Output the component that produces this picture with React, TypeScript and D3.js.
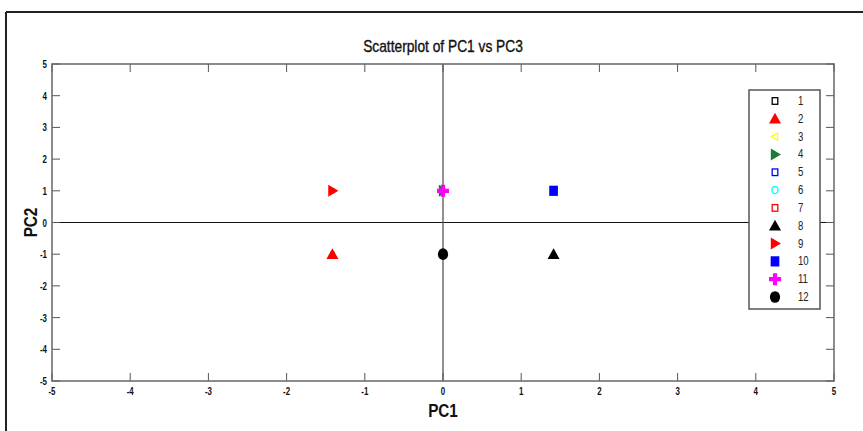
import * as d3 from 'd3';
import React from 'react';

// observation numbers and their scores
const obsLabels = ['1', '2', '3', '4', '5', '6', '7', '8', '9', '10', '11', '12'];
const pc1Values = [-1.414, -1.414, 1.414, 0, 1.414, 0, -1.414, 1.414, -1.414, 1.414, 0, 0];
const pc2Values = [-1, -1, -1, 1, 1, 1, 1, -1, 1, 1, 1, -1];
const axisTicks = [-5, -4, -3, -2, -1, 0, 1, 2, 3, 4, 5];

const markerKinds = ['square', 'triUp', 'triLeft', 'triRight', 'square', 'circle', 'square', 'triUp', 'triRight', 'square', 'plus', 'circle'];
const markerColors = ['#000', '#ff0000', '#ffff00', '#1f7a3a', '#0000ff', '#00ffff', '#ff0000', '#000', '#ff0000', '#0000ff', '#ff00ff', '#000'];
const markerFilled = [false, true, false, true, false, false, false, true, true, true, true, true];

const FONT = "'Liberation Sans', Arial, sans-serif";

const markerPath = (kind: string, s: number) => {
  switch (kind) {
    case 'triUp':
      return `M0,${-s} L${s},${s * 0.8} L${-s},${s * 0.8} Z`;
    case 'triRight':
      return `M${s},0 L${-s * 0.7},${-s} L${-s * 0.7},${s} Z`;
    case 'triLeft':
      return `M${-s},0 L${s * 0.7},${-s} L${s * 0.7},${s} Z`;
    case 'plus': {
      const a = s * 0.35;
      return `M${-a},${-s} H${a} V${-a} H${s} V${a} H${a} V${s} H${-a} V${a} H${-s} V${-a} H${-a} Z`;
    }
    default:
      return '';
  }
};

const Marker = ({ kind, color, filled, x, y, s }) => {
  const fill = filled ? color : 'none';
  const sw = filled ? 0 : 1.3;
  if (kind === 'square') {
    const h = filled ? s * 0.85 : s * 0.55;
    return <rect x={x - h * 0.85} y={y - h} width={h * 1.7} height={h * 2} fill={fill} stroke={color} strokeWidth={sw} />;
  }
  if (kind === 'circle') {
    const r = filled ? s * 0.85 : s * 0.5;
    return <ellipse cx={x} cy={y} rx={r} ry={r * 1.15} fill={fill} stroke={color} strokeWidth={sw} />;
  }
  return <path transform={`translate(${x},${y})`} d={markerPath(kind, filled ? s : s * 0.6)} fill={fill} stroke={color} strokeWidth={sw} />;
};

// condensed text (no narrow font available)
const Txt = ({ x, y, sx = 0.8, children, ...rest }) => (
  <text transform={`translate(${x},${y}) scale(${sx},1)`} fontFamily={FONT} {...rest}>
    {children}
  </text>
);

const App = () => {
  const width = 863;
  const height = 431;
  const left = 52;
  const right = 834;
  const top = 64;
  const bottom = 381;

  const x = d3.scaleLinear().domain([-5, 5]).range([left, right]);
  const y = d3.scaleLinear().domain([-5, 5]).range([bottom, top]);

  // legend layout
  const legX = 749;
  const legY = 90;
  const legW = 71;
  const legH = 219;
  const rowY = d3.scalePoint().domain(obsLabels).range([legY + 11, legY + legH - 12]);

  const tickLen = 8;

  return (
    <svg width={width} height={height} style={{ position: 'absolute', left: 0, top: 0, background: '#fff' }}>
      {/* outer figure frame */}
      <line x1={6} y1={12} x2={width} y2={12} stroke="#222" strokeWidth={2} />
      <line x1={6} y1={12} x2={6} y2={height} stroke="#222" strokeWidth={2} />

      <Txt x={443} y={52} sx={0.86} textAnchor="middle" fontSize={16} fill="#111" stroke="#111" strokeWidth={0.35}>
        Scatterplot of PC1 vs PC3
      </Txt>

      {/* zero lines */}
      <line x1={left} x2={right} y1={y(0)} y2={y(0)} stroke="#111" strokeWidth={1.2} />
      <line x1={x(0)} x2={x(0)} y1={top} y2={bottom} stroke="#555" strokeWidth={1.3} />

      {/* ticks */}
      {axisTicks.map((t) => (
        <g key={'t' + t} stroke="#555" strokeWidth={1}>
          <line x1={x(t)} x2={x(t)} y1={bottom} y2={bottom - tickLen} />
          <line x1={x(t)} x2={x(t)} y1={top} y2={top + tickLen} />
          <line x1={left} x2={left + tickLen} y1={y(t)} y2={y(t)} />
          <line x1={right} x2={right - tickLen} y1={y(t)} y2={y(t)} />
        </g>
      ))}

      {/* frame */}
      <rect x={left} y={top} width={right - left} height={bottom - top} fill="none" stroke="#666" strokeWidth={1.5} />

      {/* tick labels */}
      {axisTicks.map((t) => (
        <Txt key={'xl' + t} x={x(t)} y={bottom + 14} sx={0.72} textAnchor="middle" fontWeight="bold" fontSize={11} fill="#111">
          {t}
        </Txt>
      ))}
      {axisTicks.map((t) => (
        <Txt key={'yl' + t} x={left - 5} y={y(t) + 4} sx={0.72} textAnchor="end" fontWeight="bold" fontSize={11} fill="#111">
          {t}
        </Txt>
      ))}

      <Txt x={443} y={417} sx={0.85} textAnchor="middle" fontWeight="bold" fontSize={18} fill="#111">
        PC1
      </Txt>
      <text transform={`translate(37,${y(0)}) rotate(-90) scale(0.85,1)`} textAnchor="middle" fontFamily={FONT} fontWeight="bold" fontSize={18} fill="#111">
        PC2
      </text>

      {/* data points */}
      {obsLabels.map((lab, i) => (
        <Marker key={'p' + lab} kind={markerKinds[i]} color={markerColors[i]} filled={markerFilled[i]} x={x(pc1Values[i])} y={y(pc2Values[i])} s={markerFilled[i] ? 6 : 3.2} />
      ))}

      {/* legend */}
      <rect x={legX} y={legY} width={legW} height={legH} fill="#fff" stroke="#555" strokeWidth={1.5} />
      {obsLabels.map((lab, i) => (
        <g key={'lg' + lab}>
          <Marker kind={markerKinds[i]} color={markerColors[i]} filled={markerFilled[i]} x={legX + 26} y={rowY(lab)} s={6} />
          <Txt x={legX + 49} y={rowY(lab) + 4} sx={0.8} fontSize={12} fill="#222">
            {lab}
          </Txt>
        </g>
      ))}
    </svg>
  );
};

export default App;
